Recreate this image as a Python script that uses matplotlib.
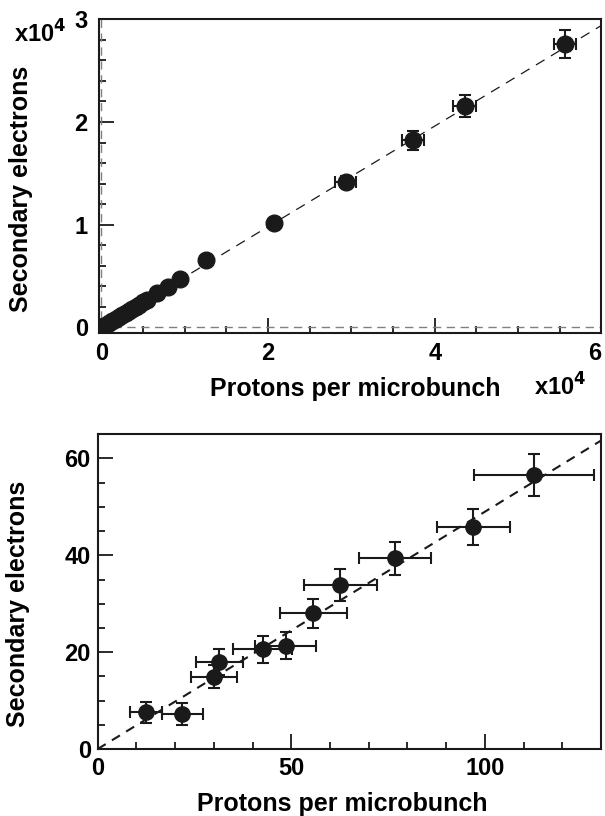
import numpy as np
import matplotlib.pyplot as plt
from matplotlib.ticker import MultipleLocator

plt.rcParams['font.family'] = ['Liberation Sans', 'DejaVu Sans']
plt.rcParams['font.weight'] = 'bold'
plt.rcParams['mathtext.default'] = 'bf'

# painel de cima (unidades de 10^4)
top_x = [0.05, 0.09, 0.13, 0.17, 0.21, 0.25, 0.29, 0.33, 0.37, 0.41, 0.45, 0.50, 0.55,
         0.665, 0.80, 0.94, 1.25, 2.07, 2.93, 3.74, 4.36, 5.56]
top_y = [0.02, 0.04, 0.06, 0.08, 0.10, 0.12, 0.14, 0.16, 0.18, 0.20, 0.22, 0.245, 0.27,
         0.33, 0.39, 0.47, 0.66, 1.02, 1.42, 1.82, 2.16, 2.76]
top_xerr = [0] * 17 + [0.02, 0.13, 0.13, 0.137, 0.13]
top_yerr = [0] * 17 + [0.02, 0.05, 0.093, 0.107, 0.14]
top_xticks = [0, 2, 4, 6]

# painel de baixo
bot_x = [12.5, 21.9, 30.1, 31.4, 42.6, 48.6, 55.7, 62.7, 76.7, 97.0, 112.7]
bot_y = [7.6, 7.2, 14.9, 18.0, 20.6, 21.3, 28.0, 33.8, 39.4, 45.9, 56.6]
bot_xerr = [4.2, 5.3, 6.0, 6.1, 7.7, 7.9, 8.6, 9.4, 9.3, 9.4, 15.5]
bot_yerr = [2.2, 2.2, 2.4, 2.7, 2.8, 2.8, 3.0, 3.3, 3.4, 3.7, 4.3]

slope = 0.49
ink = '#1a1a1a'

fig = plt.figure(figsize=(6.05, 8.16), dpi=100)

# --- grafico de cima
ax1 = fig.add_axes([0.1636, 0.5923, 0.8304, 0.384])
ax1.axhline(0, color='gray', ls=(0, (6, 4)), lw=1)
ax1.axvline(0, color='gray', ls=(0, (6, 4)), lw=1)
xx = np.array([0, 6.1])
ax1.plot(xx, slope * xx, color=ink, ls=(0, (8, 6)), lw=0.9)
ax1.errorbar(top_x, top_y, xerr=top_xerr, yerr=top_yerr, fmt='o', color=ink,
             ms=12, capsize=4, elinewidth=1.5, capthick=1.5)
ax1.set_xlim(-0.03, 6)
ax1.set_ylim(-0.053, 3)
ax1.set_xticks(top_xticks, labels=[str(t) for t in top_xticks])
ax1.xaxis.set_minor_locator(MultipleLocator(0.5))
ax1.yaxis.set_major_locator(MultipleLocator(1))
ax1.yaxis.set_minor_locator(MultipleLocator(0.2))
ax1.set_xlabel('Protons per microbunch', fontsize=18, fontweight='bold', va='center')
ax1.set_ylabel('Secondary electrons', fontsize=18, fontweight='bold')
ax1.xaxis.set_label_coords(0.51, -0.18)
ax1.yaxis.set_label_coords(-0.131, 0.46)
fig.text(0.926, 0.526, r'x10$^4$', fontsize=17, fontweight='bold', ha='center', va='center')
fig.text(0.066, 0.958, r'x10$^4$', fontsize=17, fontweight='bold', ha='center', va='center')

# --- grafico de baixo
ax2 = fig.add_axes([0.1615, 0.0821, 0.8319, 0.3857])
xx = np.array([0, 130])
ax2.plot(xx, slope * xx, color=ink, ls=(0, (4.5, 3.5)), lw=1.5)
ax2.errorbar(bot_x, bot_y, xerr=bot_xerr, yerr=bot_yerr, fmt='o', color=ink,
             ms=11, capsize=4, elinewidth=1.5, capthick=1.5)
ax2.set_xlim(0, 130)
ax2.set_ylim(0, 65)
ax2.xaxis.set_major_locator(MultipleLocator(50))
ax2.xaxis.set_minor_locator(MultipleLocator(10))
ax2.yaxis.set_major_locator(MultipleLocator(20))
ax2.yaxis.set_minor_locator(MultipleLocator(5))
ax2.set_xlabel('Protons per microbunch', fontsize=18, fontweight='bold', va='center')
ax2.set_ylabel('Secondary electrons', fontsize=18, fontweight='bold')
ax2.xaxis.set_label_coords(0.486, -0.175)
ax2.yaxis.set_label_coords(-0.134, 0.46)

for ax in (ax1, ax2):
    for s in ax.spines.values():
        s.set_linewidth(1.5)
        s.set_color(ink)
    ax.tick_params(which='both', direction='in', top=False, right=False,
                   width=1.3, color=ink, labelsize=17)
    ax.tick_params(which='major', length=11)
    ax.tick_params(which='minor', length=5)
    for lab in ax.get_xticklabels() + ax.get_yticklabels():
        lab.set_fontweight('bold')
ax1.tick_params(axis='y', pad=8)
ax1.tick_params(axis='x', pad=7)
ax2.tick_params(axis='y', pad=5)
ax2.tick_params(axis='x', pad=6)

# o "6" fica encostado na borda da figura
ax1.get_xticklabels()[-1].set_horizontalalignment('right')

fig.savefig('out.png', dpi=100)
